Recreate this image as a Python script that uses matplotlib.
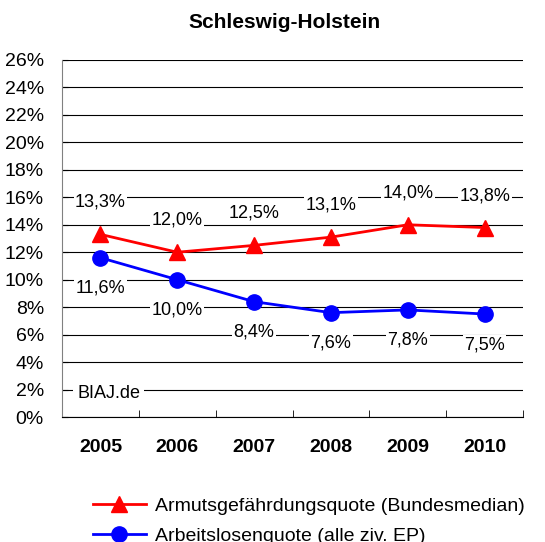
import numpy as np
import matplotlib.pyplot as plt
from matplotlib.ticker import FuncFormatter

# %% Data
years = ['2005', '2006', '2007', '2008', '2009', '2010']
armut = [13.3, 12.0, 12.5, 13.1, 14.0, 13.8]
arbeitslos = [11.6, 10.0, 8.4, 7.6, 7.8, 7.5]
yticks = np.arange(0, 27, 2)

plt.rcParams['font.family'] = ['Liberation Sans', 'DejaVu Sans']

# %% Plot
fig = plt.figure(figsize=(5.45, 5.42), dpi=100)
ax = fig.add_axes([0.1138, 0.2306, 0.8459, 0.6587])

x = np.arange(len(years))
l1, = ax.plot(x, armut, '-', color='#ff0000', lw=2, marker='^', ms=11,
              label='Armutsgefährdungsquote (Bundesmedian)', zorder=3)
l2, = ax.plot(x, arbeitslos, '-', color='#0000ff', lw=2, marker='o', ms=11,
              label='Arbeitslosenquote (alle ziv. EP)', zorder=3)

box = dict(facecolor='white', edgecolor='none', pad=1)
for xi, v in zip(x, armut):
    ax.annotate(f'{v:.1f}%'.replace('.', ','), (xi, v), xytext=(0, 23),
                textcoords='offset points', ha='center', va='center',
                fontsize=13, bbox=box, zorder=4)
for xi, v in zip(x, arbeitslos):
    ax.annotate(f'{v:.1f}%'.replace('.', ','), (xi, v), xytext=(0, -22),
                textcoords='offset points', ha='center', va='center',
                fontsize=13, bbox=box, zorder=4)

ax.text(0.033, 0.065, 'BIAJ.de', transform=ax.transAxes, fontsize=13,
        va='center', ha='left', bbox=dict(facecolor='white', edgecolor='none', pad=3), zorder=4)

ax.set_xlim(-0.5, len(years) - 0.5)
ax.set_ylim(0, 26)
ax.set_yticks(yticks)
ax.yaxis.set_major_formatter(FuncFormatter(lambda v, p: f'{v:.0f}%'))
ax.yaxis.grid(True, color='black', lw=0.8)
ax.set_axisbelow(True)
ax.set_xticks(x)
ax.set_xticklabels(years, fontweight='bold', fontsize=14)
ax.set_xticks(np.arange(-0.5, len(years)), minor=True)
ax.tick_params(axis='x', which='major', length=0, pad=16)
ax.tick_params(axis='x', which='minor', length=5, direction='in', color='black')
ax.tick_params(axis='y', labelsize=14, length=4, direction='in', pad=13)
for s in ['top', 'right']:
    ax.spines[s].set_visible(False)
ax.spines['left'].set_color('#808080')
ax.spines['bottom'].set_color('black')
ax.set_title('Schleswig-Holstein', fontweight='bold', fontsize=15, pad=23, x=0.483)

fig.legend(handles=[l1, l2], loc='upper left', bbox_to_anchor=(93 / 545, 1 - 497 / 542),
           frameon=False, fontsize=14, handlelength=2.7, handletextpad=0.5,
           labelspacing=0.65, borderpad=0, borderaxespad=0)

fig.savefig('out.png', dpi=100)
